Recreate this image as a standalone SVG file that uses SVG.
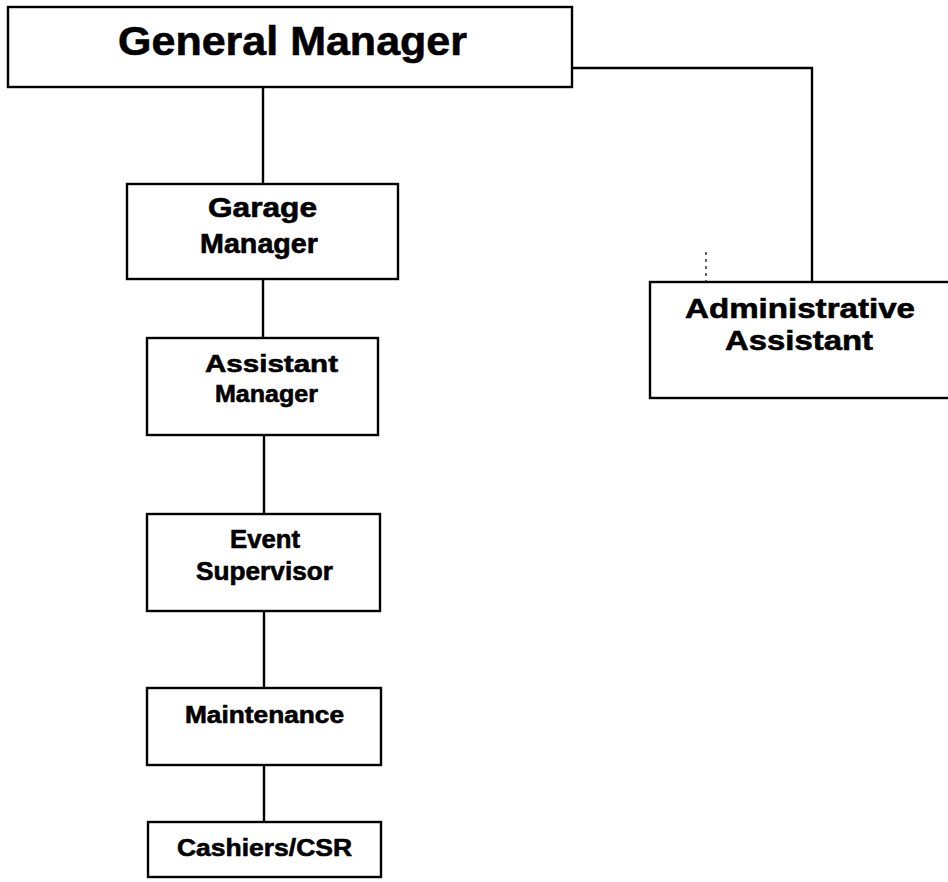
<svg xmlns="http://www.w3.org/2000/svg" width="948" height="882" viewBox="0 0 948 882">
<style>
.box{fill:#fff;stroke:#000;stroke-width:2.4}
.conn{fill:none;stroke:#000;stroke-width:2.4}
text{font-family:"Liberation Sans",Arial,sans-serif;font-weight:bold;fill:#000;stroke:#000;stroke-width:0.6}
</style>
<rect width="948" height="882" fill="#fff"/>
<g id="connectors">
<path class="conn" d="M263 87 V184"/>
<path class="conn" d="M572 68 H812 V282"/>
<path class="conn" d="M263 279 V338"/>
<path class="conn" d="M264 435 V514"/>
<path class="conn" d="M264 611 V688"/>
<path class="conn" d="M264 765 V822"/>
<path d="M706 252 V294" stroke="#000" stroke-width="1.2" stroke-dasharray="3,4" fill="none"/>
</g>
<g id="general-manager">
<rect class="box" x="8" y="7" width="564" height="80"/>
<text x="118" y="55" font-size="41" textLength="349" lengthAdjust="spacingAndGlyphs">General Manager</text>
</g>
<g id="garage-manager">
<rect class="box" x="127" y="184" width="271" height="95"/>
<text x="208" y="217" font-size="27" textLength="109" lengthAdjust="spacingAndGlyphs">Garage</text>
<text x="200" y="253" font-size="27" textLength="118" lengthAdjust="spacingAndGlyphs">Manager</text>
</g>
<g id="assistant-manager">
<rect class="box" x="147" y="338" width="231" height="97"/>
<text x="205" y="372" font-size="24" textLength="133" lengthAdjust="spacingAndGlyphs">Assistant</text>
<text x="215" y="402" font-size="24" textLength="103" lengthAdjust="spacingAndGlyphs">Manager</text>
</g>
<g id="administrative-assistant">
<rect class="box" x="650" y="282" width="310" height="116"/>
<text x="685" y="318" font-size="28" textLength="230" lengthAdjust="spacingAndGlyphs">Administrative</text>
<text x="725" y="350" font-size="28" textLength="148" lengthAdjust="spacingAndGlyphs">Assistant</text>
</g>
<g id="event-supervisor">
<rect class="box" x="147" y="514" width="233" height="97"/>
<text x="230" y="548" font-size="25" textLength="70" lengthAdjust="spacingAndGlyphs">Event</text>
<text x="196" y="580" font-size="25" textLength="137" lengthAdjust="spacingAndGlyphs">Supervisor</text>
</g>
<g id="maintenance">
<rect class="box" x="147" y="688" width="234" height="77"/>
<text x="185" y="723" font-size="23" textLength="159" lengthAdjust="spacingAndGlyphs">Maintenance</text>
</g>
<g id="cashiers-csr">
<rect class="box" x="148" y="822" width="233" height="55"/>
<text x="177" y="856" font-size="24" textLength="175" lengthAdjust="spacingAndGlyphs">Cashiers/CSR</text>
</g>
</svg>
